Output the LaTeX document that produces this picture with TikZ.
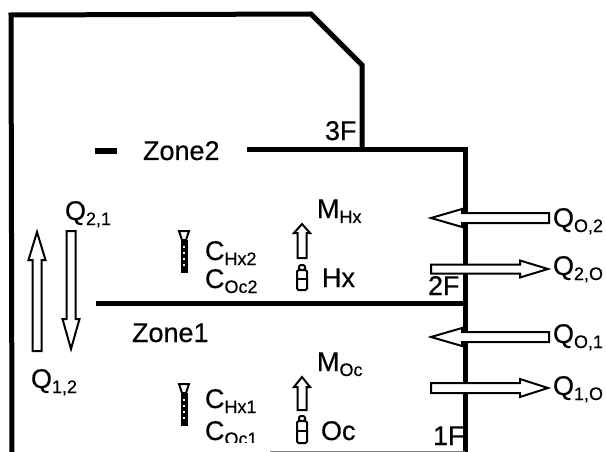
\documentclass[tikz,border=0pt]{standalone}
\usepackage{fontspec}
\setmainfont[FakeBold=0.4]{Liberation Sans}
\newcommand{\bigtxt}{\fontsize{27}{27}\selectfont}
\newcommand{\subtxt}{\fontsize{18}{18}\selectfont}
\newcommand{\withsub}[2]{{\bigtxt #1}\raisebox{-5pt}{\subtxt #2}}
\tikzset{
  x=1pt,y=-1pt,
  wall/.style={line width=5pt,line join=miter,line cap=butt},
  blockarrow/.style={draw=black,fill=white,line width=2pt,line join=miter},
  lab/.style={anchor=base west,inner sep=0pt,outer sep=0pt,font=\bigtxt},
  sensorhead/.style={draw=black,fill=white,line width=2pt},
  sensorbody/.style={fill=black},
  sensordot/.style={fill=white},
  meter/.style={draw=black,fill=white,line width=2pt,rounded corners=1.5pt}
}
% vertical block arrow: centre x, tip y, head base y, tail y, half shaft, half head
\newcommand{\varrow}[6]{\path[blockarrow] (#1,#2)--(#1+#6,#3)--(#1+#5,#3)--(#1+#5,#4)--(#1-#5,#4)--(#1-#5,#3)--(#1-#6,#3)--cycle;}
% horizontal block arrow: centre y, tip x, head base x, tail x, half shaft, half head
\newcommand{\harrow}[6]{\path[blockarrow] (#2,#1)--(#3,#1-#6)--(#3,#1-#5)--(#4,#1-#5)--(#4,#1+#5)--(#3,#1+#5)--(#3,#1+#6)--cycle;}
\newcommand{\sensor}[2]{%
  \fill[sensorbody] (#1-3.5,#2+11) rectangle (#1+3.5,#2+44);
  \path[sensorhead] (#1-5,#2+2)--(#1+5,#2+2)--(#1+2,#2+11)--(#1-2,#2+11)--cycle;
  \foreach \d in {17,23,29,35}{\fill[sensordot] (#1-1,#2+\d) rectangle (#1+1,#2+\d+2);}}
\newcommand{\gauge}[3]{%
  \path[meter] (#1-3,#2) rectangle (#1+3,#2+5);
  \path[meter] (#1-5,#2+5) rectangle (#1+5,#3);
  \draw[line width=2pt] (#1-5,{#2+(#3-#2)*0.55}) -- (#1+5,{#2+(#3-#2)*0.55});}
\begin{document}
\begin{tikzpicture}
\useasboundingbox (0,0) rectangle (606,452);
\fill[white] (0,0) rectangle (606,452);
% outline
\draw[wall] (247,150)--(465,150)--(465,452);
\draw[wall] (12,452)--(11,15)--(311,14)--(362,65)--(362,150);
\draw[wall] (96,303)--(465,303);
\draw[line width=6pt] (95,151)--(117,151);
\draw[line width=0.8pt,gray] (270,451)--(465,451);
% vertical arrows
\varrow{37}{232}{260}{351}{4.5}{8.5}
\varrow{71}{349}{319}{231}{4.5}{8.5}
\varrow{302}{224}{233}{258}{4.5}{8}
\varrow{302}{377}{387}{410}{4.5}{8}
% horizontal arrows
\harrow{218}{431}{462}{549}{5}{9}
\harrow{269}{548}{520}{431}{4.5}{8.5}
\harrow{337}{431}{462}{549}{5}{9}
\harrow{388}{548}{520}{431}{5}{9}
% sensors and gauges
\sensor{184}{229}
\sensor{184}{382}
\gauge{302}{265}{290}
\gauge{302}{416}{443}
% labels
\node[lab] (zone2) at (143,160) {Zone2};
\node[lab] (zone1) at (132,342) {Zone1};
\node[lab] (f3) at (325,140) {3F};
\node[lab] (f2) at (428,295) {2F};
\node[lab] (f1) at (433,445) {1F};
\node[lab] (q21) at (65,220) {\withsub{Q}{2,1}};
\node[lab] (q12) at (31,388) {\withsub{Q}{1,2}};
\node[lab] (chx2) at (205,260) {\withsub{C}{Hx2}};
\node[lab] (coc2) at (205,288) {\withsub{C}{Oc2}};
\node[lab] (chx1) at (205,408) {\withsub{C}{Hx1}};
\begin{scope}
\clip (200,415) rectangle (270,442);
\node[lab] (coc1) at (205,440) {\withsub{C}{Oc1}};
\end{scope}
\node[lab] (mhx) at (317,218) {\withsub{M}{Hx}};
\node[lab] (moc) at (317,371) {\withsub{M}{Oc}};
\node[lab] (hx) at (322,287) {Hx};
\node[lab] (oc) at (321,440) {Oc};
\node[lab] (qo2) at (553,227) {\withsub{Q}{O,2}};
\node[lab] (q2o) at (553,275) {\withsub{Q}{2,O}};
\node[lab] (qo1) at (553,343) {\withsub{Q}{O,1}};
\node[lab] (q1o) at (553,395) {\withsub{Q}{1,O}};
\end{tikzpicture}
\end{document}
